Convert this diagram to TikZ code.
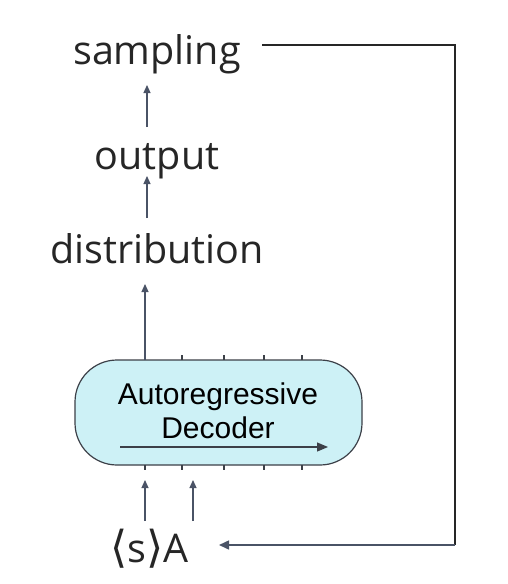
\documentclass[tikz,border=0pt]{standalone}
\usepackage{fontspec}
\setmainfont{Open Sans}
\newfontfamily\boxfont{Liberation Sans}
\newfontfamily\brfont{DejaVu Sans}
\usetikzlibrary{arrows.meta}
\definecolor{arrowgray}{HTML}{4A5366}
\definecolor{boxfill}{HTML}{CDF1F6}
\definecolor{boxline}{HTML}{3C4048}
\begin{document}
\begin{tikzpicture}[x=1pt,y=-1pt,
  lbl/.style={font=\fontsize{39.5}{44}\selectfont, inner sep=0pt, text=black!85},
  uparrow/.style={draw=arrowgray, line width=1.2pt, -{Triangle[length=8pt,width=7pt]}},
  fb/.style={draw=black!85, line width=1.8pt},
  tick/.style={draw=boxline, line width=1.2pt}]
\useasboundingbox (0,0) rectangle (508,584);
\fill[white] (0,0) rectangle (508,584);
\node[lbl, anchor=base] (samp) at (157,64) {sampling};
\node[lbl, anchor=base] (out) at (157,169) {output};
\node[lbl, anchor=base] (dist) at (157,263) {distribution};
\node[draw=boxline, line width=1.2pt, fill=boxfill, rounded corners=42pt,
  minimum width=287pt, minimum height=105pt] (dec) at (218.5,412.5) {};
\node[font=\boxfont\fontsize{30}{34}\selectfont, align=center, inner sep=0pt] (dectxt) at (218,411)
  {Autoregressive\\Decoder};
\coordinate (ia) at (120,447);
\coordinate (ib) at (328,447);
\draw[draw=boxline, line width=1.2pt, -{Triangle[length=11pt,width=9pt]}] (ia) -- (ib);
\foreach \x in {145,182,224,264,302} {
  \draw[tick] (\x,355) -- (\x,360);
  \draw[tick] (\x,465) -- (\x,470);
}
\node[lbl, anchor=base west] (inp) at (110,562) {{\brfont\fontsize{44}{44}\selectfont ⟨}s{\brfont\fontsize{44}{44}\selectfont ⟩}A};
\coordinate (sA) at (145,521);
\coordinate (aA) at (193,521);
\draw[uparrow] (sA) -- (145,480);
\draw[uparrow] (aA) -- (193,480);
\draw[uparrow] (145,360) -- (145,284);
\draw[uparrow] (147,218) -- (147,176);
\draw[uparrow] (147,127) -- (147,85);
\coordinate (c1) at (455,45);
\coordinate (c2) at (455,545);
\coordinate (fe) at (219,545);
\draw[fb] (262,45) -- (c1) -- (c2);
\draw[draw=arrowgray, line width=1.5pt, -{Triangle[length=10pt,width=9pt]}] (c2) -- (fe);
\end{tikzpicture}
\end{document}
